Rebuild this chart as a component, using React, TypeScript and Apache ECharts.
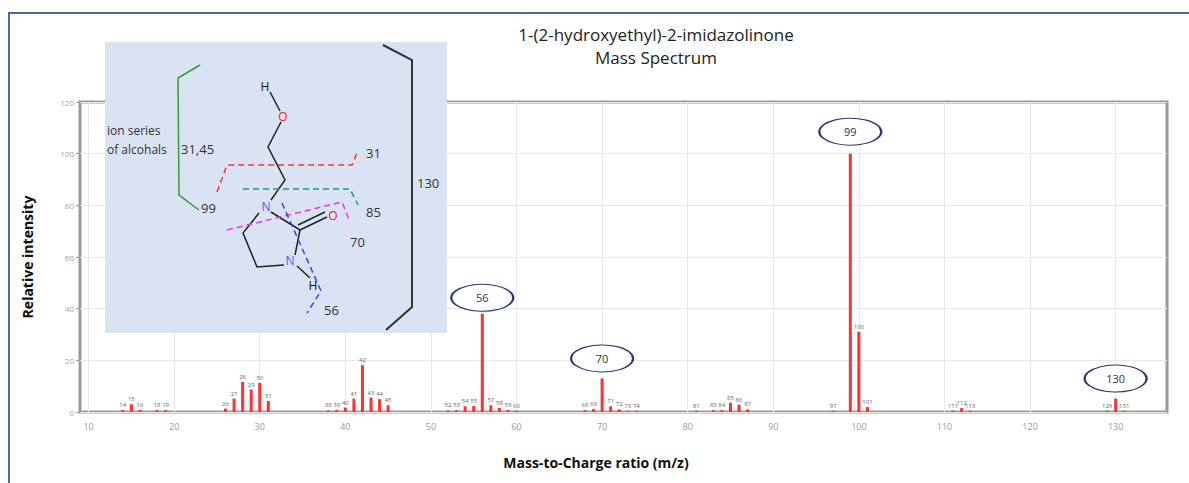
import * as echarts from "echarts";
import { useEffect, useRef } from "react";

// peaks: m/z and relative intensity
const massToCharge = [14, 15, 16, 18, 19, 26, 27, 28, 29, 30, 31, 38, 39, 40, 41, 42, 43, 44, 45, 52, 53, 54, 55, 56, 57, 58, 59, 60, 68, 69, 70, 71, 72, 73, 74, 81, 83, 84, 85, 86, 87, 97, 99, 100, 101, 111, 112, 113, 129, 130, 131];
const intensity = [0.8, 3, 0.8, 0.7, 0.7, 1.3, 5.2, 11.6, 8.7, 11.3, 4.3, 0.6, 0.8, 1.7, 5.2, 18.1, 5.6, 5, 2.6, 0.6, 0.7, 2.2, 2.3, 38, 2.6, 1.6, 0.8, 0.5, 0.7, 1.1, 13, 2.2, 1, 0.5, 0.5, 0.5, 0.7, 0.7, 3.6, 2.8, 1, 0.5, 100, 31, 1.9, 0.5, 1.5, 0.5, 0.5, 5.2, 0.5];
// peaks marked with an ellipse in the original, and how far above the bar the ellipse sits
const circledPeaks = [56, 70, 99, 130];
const circleOffsets = [-16, -20, -22, -20];
const xTicks = [10, 20, 30, 40, 50, 60, 70, 80, 90, 100, 110, 120, 130];
const yTicks = [0, 20, 40, 60, 80, 100, 120];

const FONT = "'Open Sans', 'Liberation Sans', sans-serif";
const INK = "#333";

function txt(x: number, y: number, text: string, fill = INK, size = 13, align = "left") {
  return {
    type: "text",
    x,
    y,
    z: 110,
    style: { text, fill, font: `${size}px ${FONT}`, textAlign: align, textVerticalAlign: "middle" }
  };
}

function seg(points: number[][], stroke: string, dashed = false, width = 1.5) {
  return {
    type: "polyline",
    z: 105,
    shape: { points },
    style: { stroke, lineWidth: width, fill: null, lineDash: dashed ? [6, 4] : null }
  };
}

function buildInset() {
  const black = "#222";
  return [
    {
      type: "rect",
      z: 100,
      shape: { x: 105, y: 42, width: 342, height: 291 },
      style: { fill: "#dae3f3" }
    },
    // alcohol ion series bracket
    seg([[200, 65], [178, 78], [179, 195], [199, 210]], "#3a9a3a"),
    txt(107, 130, "ion series", INK, 12),
    txt(107, 149, "of alcohals", INK, 12),
    txt(181, 149, "31,45", INK, 13),
    txt(201, 208, "99", INK, 13),
    // molecular ion bracket
    seg([[383, 45], [412, 60], [412, 307], [386, 330]], "#333", false, 2),
    txt(417, 183, "130", INK, 13),
    // skeleton
    seg([[270, 92], [280, 111]], black),
    seg([[281, 122], [268, 147], [285, 180], [271, 200]], black),
    seg([[271, 212], [300, 230]], black),
    seg([[300, 230], [327, 217]], black),
    seg([[298, 225], [325, 212]], black),
    seg([[300, 230], [295, 255]], black),
    seg([[284, 265], [257, 267], [243, 233], [259, 213]], black),
    seg([[297, 266], [310, 278]], black),
    txt(265, 86, "H", "#111", 12, "center"),
    txt(283, 116, "O", "#ee2222", 12, "center"),
    txt(266, 206, "N", "#4466ff", 12, "center"),
    txt(333, 215, "O", "#ee2222", 12, "center"),
    txt(290, 260, "N", "#4466ff", 12, "center"),
    txt(313, 285, "H", "#111", 12, "center"),
    // fragmentation cuts
    seg([[217, 192], [227, 165], [352, 165], [358, 150]], "#ff3333", true),
    txt(366, 153, "31", INK, 13),
    seg([[243, 189], [350, 189], [358, 205]], "#22998a", true),
    txt(366, 212, "85", INK, 13),
    seg([[227, 230], [342, 202], [350, 222]], "#ee33ee", true),
    txt(350, 242, "70", INK, 13),
    seg([[282, 203], [321, 291], [307, 313]], "#3344ee", true),
    txt(324, 310, "56", INK, 13)
  ];
}

function buildOption() {
  const bars = massToCharge.map((mz, i) => ({
    value: [mz, intensity[i]],
    label: { show: !circledPeaks.includes(mz) }
  }));
  const circles = circledPeaks.map((mz, i) => ({
    coord: [mz, intensity[massToCharge.indexOf(mz)]],
    symbolOffset: [0, circleOffsets[i]],
    value: mz
  }));

  return {
    animation: false,
    textStyle: { fontFamily: FONT },
    title: {
      text: "1-(2-hydroxyethyl)-2-imidazolinone\nMass Spectrum",
      left: 651,
      top: 18,
      textAlign: "center",
      textStyle: { fontSize: 17, fontWeight: "normal", color: "#222", lineHeight: 23, fontFamily: FONT }
    },
    grid: {
      left: 80,
      right: 22,
      top: 102,
      bottom: 71,
      show: true,
      borderColor: "#9a9a9a",
      borderWidth: 3,
      backgroundColor: "#fff"
    },
    xAxis: {
      type: "value",
      min: 9,
      max: 136,
      axisLine: { show: false },
      axisTick: { show: false, customValues: xTicks },
      axisLabel: { customValues: xTicks, color: "#9a9a9a", fontSize: 9, margin: 10 },
      splitLine: { lineStyle: { color: "#e8e8e8" } }
    },
    yAxis: {
      type: "value",
      min: 0,
      max: 120,
      interval: 20,
      name: "Relative intensity",
      nameLocation: "middle",
      nameGap: 46,
      nameTextStyle: { fontSize: 14, fontWeight: "bold", color: "#111", fontFamily: FONT },
      axisLine: { show: false },
      axisTick: { show: true, length: 4, lineStyle: { color: "#9a9a9a" } },
      axisLabel: { color: "#9aa3b5", fontSize: 8, margin: 6, customValues: yTicks },
      splitLine: { lineStyle: { color: "#e8e8e8" } }
    },
    series: [
      {
        type: "bar",
        data: bars,
        barWidth: 3,
        itemStyle: { color: "#ff3030" },
        label: {
          position: "top",
          distance: 2,
          fontSize: 6,
          color: "#666",
          formatter: (p: any) => String(p.value[0])
        },
        markPoint: {
          symbol: "circle",
          symbolSize: [62, 27],
          itemStyle: { color: "#fff", borderColor: "#2b3a6b", borderWidth: 1.5 },
          label: { show: true, position: "inside", color: INK, fontSize: 11, formatter: "{c}" },
          data: circles
        }
      }
    ],
    graphic: [
      {
        type: "rect",
        z: 120,
        shape: { x: 9, y: 13, width: 1300, height: 600 },
        style: { fill: null, stroke: "#4a6aa8", lineWidth: 2 }
      },
      {
        type: "text",
        x: 596,
        y: 462,
        style: {
          text: "Mass-to-Charge ratio (m/z)",
          fill: "#111",
          font: `bold 14px ${FONT}`,
          textAlign: "center",
          textVerticalAlign: "middle"
        }
      },
      ...buildInset()
    ]
  };
}

export default function App() {
  const ref = useRef<HTMLDivElement | null>(null);

  useEffect(() => {
    if (!ref.current) {
      return;
    }
    const chart = echarts.init(ref.current, undefined, { renderer: "svg" });
    chart.setOption(buildOption() as any);
    return () => chart.dispose();
  }, []);

  return (
    <div
      ref={ref}
      style={{ position: "absolute", left: 0, top: 0, width: 1189, height: 483, background: "#fff" }}
    />
  );
}
